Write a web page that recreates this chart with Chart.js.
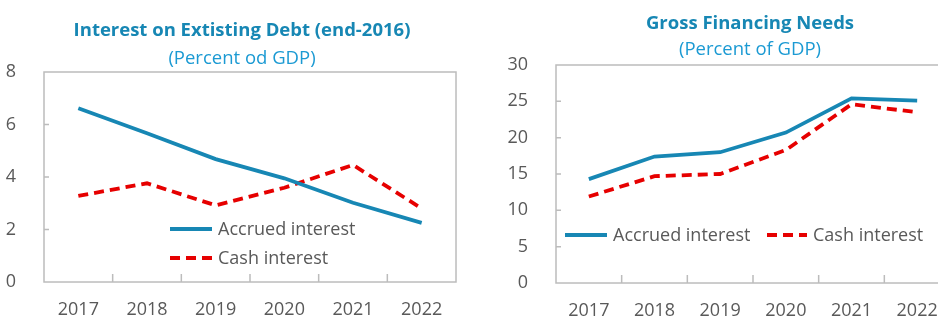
<!DOCTYPE html>
<html lang="en">
<head>
<meta charset="UTF-8">
<title>Interest and Gross Financing Needs</title>
<script src="https://cdn.jsdelivr.net/npm/chart.js@4.4.1/dist/chart.umd.min.js"></script>
<style>
    html, body { margin: 0; padding: 0; background: #fff; overflow: hidden; }
    #page { position: relative; width: 938px; height: 320px; overflow: hidden; }
    .panel { position: absolute; top: 0; height: 320px; }
    .title { position: absolute; width: 400px; text-align: center; font-family: "Open Sans", sans-serif;
             font-weight: bold; font-size: 18.5px; line-height: 20px; color: #1787b4; white-space: nowrap; }
    .sub { position: absolute; width: 400px; text-align: center; font-family: "Open Sans", sans-serif;
           font-size: 18.5px; line-height: 20px; color: #1b9ad3; white-space: nowrap; }
</style>
</head>
<body>
<div id="page">
    <div class="panel" style="left:0; width:469px;"><canvas id="debtChart" width="469" height="320"></canvas></div>
    <div class="panel" style="left:469px; width:490px;"><canvas id="gfnChart" width="490" height="320"></canvas></div>

    <div class="title" style="left:42px; top:19px;">Interest on Extisting Debt (end-2016)</div>
    <div class="sub" style="left:42px; top:47px;">(Percent od GDP)</div>
    <div class="title" style="left:550px; top:12px;">Gross Financing Needs</div>
    <div class="sub" style="left:550px; top:38px;">(Percent of GDP)</div>
</div>

<script>
// years shared by both panels
const years = ['2017', '2018', '2019', '2020', '2021', '2022'];

// interest on existing debt, percent of GDP
const debtAccrued = [6.62, 5.67, 4.68, 3.95, 3.02, 2.25];
const debtCash    = [3.28, 3.76, 2.92, 3.59, 4.46, 2.80];

// gross financing needs, percent of GDP
const gfnAccrued = [14.3, 17.4, 18.0, 20.7, 25.4, 25.1];
const gfnCash    = [11.9, 14.7, 15.0, 18.3, 24.6, 23.5];

const debtTicks = [0, 2, 4, 6, 8];
const gfnTicks  = [0, 5, 10, 15, 20, 25, 30];

const BLUE = '#1787b4';
const RED = '#e60000';
const GREY_TEXT = '#595959';
const FRAME = '#bcbcbc';
const FONT = '"Open Sans", sans-serif';

// box around the plot area plus short inward tick marks
const framePlugin = {
    id: 'frame',
    beforeDatasetsDraw(chart) {
        const ctx = chart.ctx;
        const a = chart.chartArea;
        const xs = chart.scales.x;
        const ys = chart.scales.y;
        ctx.save();
        ctx.strokeStyle = FRAME;
        ctx.lineWidth = 1.5;
        ctx.strokeRect(a.left, a.top, a.right - a.left, a.bottom - a.top);
        ctx.beginPath();
        for (let i = 1; i < xs.ticks.length; i++) {
            const x = (xs.getPixelForTick(i - 1) + xs.getPixelForTick(i)) / 2;
            ctx.moveTo(x, a.bottom);
            ctx.lineTo(x, a.bottom - 8);
        }
        ys.ticks.forEach((t, i) => {
            const y = ys.getPixelForTick(i);
            if (y > a.top + 1 && y < a.bottom - 1) {
                ctx.moveTo(a.left, y);
                ctx.lineTo(a.left + 5, y);
            }
        });
        ctx.stroke();
        ctx.restore();
    }
};

// hand placed legend inside the plot area
const inlineLegend = {
    id: 'inlineLegend',
    afterDatasetsDraw(chart, args, opts) {
        const ctx = chart.ctx;
        ctx.save();
        ctx.font = '18px ' + FONT;
        ctx.textBaseline = 'middle';
        ctx.fillStyle = GREY_TEXT;
        chart.data.datasets.forEach((ds, i) => {
            const p = opts.items[i];
            ctx.beginPath();
            ctx.strokeStyle = ds.borderColor;
            ctx.lineWidth = ds.borderWidth;
            ctx.setLineDash(ds.borderDash || []);
            ctx.moveTo(p.x, p.y);
            ctx.lineTo(p.x + p.len, p.y);
            ctx.stroke();
            ctx.setLineDash([]);
            ctx.fillText(ds.label, p.x + p.len + 6, p.y + 1);
        });
        ctx.restore();
    }
};

function makeChart(id, accrued, cash, ticks, yMax, geom, legendItems) {
    return new Chart(document.getElementById(id), {
        type: 'line',
        data: {
            labels: years,
            datasets: [
                { label: 'Accrued interest', data: accrued, borderColor: BLUE, borderWidth: 3.8,
                  pointRadius: 0, tension: 0, fill: false },
                { label: 'Cash interest', data: cash, borderColor: RED, borderWidth: 3.8,
                  borderDash: [10, 6], pointRadius: 0, tension: 0, fill: false }
            ]
        },
        options: {
            responsive: false,
            animation: false,
            layout: { padding: { top: geom.top, right: geom.right, left: 0, bottom: 0 } },
            plugins: {
                legend: { display: false },
                tooltip: { enabled: false },
                inlineLegend: { items: legendItems }
            },
            scales: {
                x: {
                    offset: true,
                    grid: { display: false },
                    border: { display: false },
                    ticks: { color: GREY_TEXT, font: { family: FONT, size: 18 }, padding: 9, maxRotation: 0 },
                    afterFit(scale) { scale.height = geom.xh; }
                },
                y: {
                    min: 0,
                    max: yMax,
                    afterBuildTicks(scale) { scale.ticks = ticks.map(v => ({ value: v })); },
                    grid: { display: false },
                    border: { display: false },
                    ticks: { color: GREY_TEXT, font: { family: FONT, size: 18 }, padding: 20 },
                    afterFit(scale) { scale.width = geom.yw; }
                }
            }
        },
        plugins: [framePlugin, inlineLegend]
    });
}

makeChart('debtChart', debtAccrued, debtCash, debtTicks, 8,
    { top: 72, right: 13, xh: 38, yw: 44 },
    [{ x: 170, y: 229, len: 42 }, { x: 170, y: 258, len: 42 }]);

makeChart('gfnChart', gfnAccrued, gfnCash, gfnTicks, 30,
    { top: 65, right: 9, xh: 37, yw: 87 },
    [{ x: 96, y: 235, len: 42 }, { x: 298, y: 235, len: 40 }]);
</script>
</body>
</html>
